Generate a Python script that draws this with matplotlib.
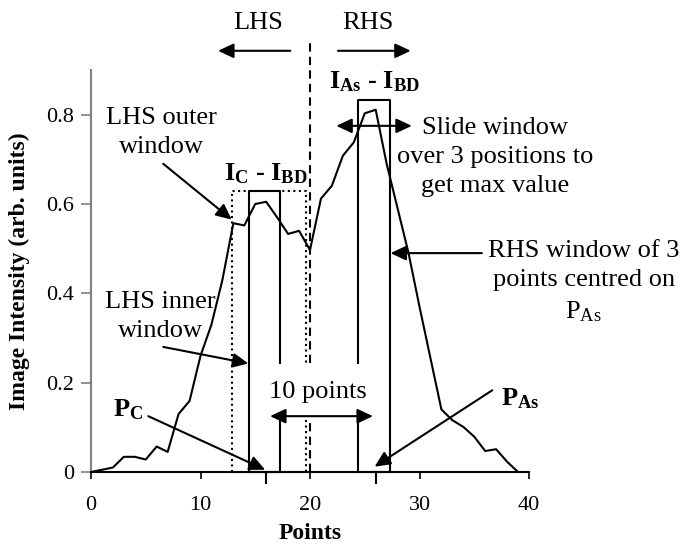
import matplotlib
matplotlib.use('Agg')
import matplotlib.pyplot as plt

# profile data
points = list(range(40))
intensity = [0.0, 0.005, 0.01, 0.034, 0.034, 0.028, 0.057, 0.045, 0.13, 0.159,
             0.26, 0.33, 0.43, 0.557, 0.552, 0.60, 0.605, 0.57, 0.533, 0.54,
             0.497, 0.612, 0.641, 0.708, 0.738, 0.803, 0.811, 0.69, 0.59, 0.49,
             0.37, 0.255, 0.14, 0.116, 0.101, 0.079, 0.047, 0.051, 0.023, 0.0]

x_ticks = [0, 10, 20, 30, 40]
y_ticks = [0, 0.2, 0.4, 0.6, 0.8]
y_tick_labels = ['0', '0.2', '0.4', '0.6', '0.8']

# window geometry
centre = 20
pc_pos, pas_pos = 16, 26
lhs_outer = (12.85, 19.6)
lhs_inner = (14.4, 17.3)
rhs_win = (24.4, 27.3)
lhs_top, rhs_top = 0.63, 0.833
gap_lo, gap_hi = 0.125, 0.244

plt.rcParams['font.family'] = ['Liberation Serif', 'DejaVu Serif']
plt.rcParams['mathtext.fontset'] = 'custom'
plt.rcParams['mathtext.rm'] = 'Liberation Serif'
plt.rcParams['mathtext.bf'] = 'Liberation Serif:bold'
plt.rcParams['mathtext.it'] = 'Liberation Serif:italic'

fig = plt.figure(figsize=(6.83, 5.55), dpi=100)
ax = fig.add_axes([91 / 683, 83 / 555, 438 / 683, 402 / 555])

ax.plot(points, intensity, color='black', lw=1.5, zorder=3)
ax.set_xlim(0, 40)
ax.set_ylim(0, 0.9)
ax.set_xticks(x_ticks)
ax.set_yticks(y_ticks)
ax.set_yticklabels(y_tick_labels)
ax.tick_params(axis='both', labelsize=16, direction='out', length=5, width=1.2)
ax.tick_params(axis='x', pad=12)
ax.tick_params(axis='y', pad=5, color='#808080', length=7)
for s in ['top', 'right']:
    ax.spines[s].set_visible(False)
ax.spines['left'].set_color('#808080')
ax.spines['left'].set_linewidth(1.5)
ax.spines['bottom'].set_linewidth(1.5)

ax.set_xlabel('Points', fontsize=17, fontweight='bold', labelpad=6)
ax.set_ylabel('Image Intensity (arb. units)', fontsize=17, fontweight='bold', labelpad=12)

lw = 1.5
# long ticks marking P_C and P_As
for p in [pc_pos, pas_pos]:
    ax.plot([p, p], [0, -0.025], color='black', lw=lw, clip_on=False)

# LHS outer window (dotted)
ax.plot([lhs_outer[0], lhs_outer[0], lhs_outer[1], lhs_outer[1]],
        [0, lhs_top, lhs_top, gap_hi], color='black', lw=lw, ls=':', clip_on=False)
ax.plot([lhs_outer[1], lhs_outer[1], lhs_outer[0]], [0.116, 0, 0],
        color='black', lw=lw, ls=':', clip_on=False)
# LHS inner window
ax.plot([lhs_inner[0], lhs_inner[0], lhs_inner[1], lhs_inner[1]],
        [0, lhs_top, lhs_top, gap_hi], color='black', lw=lw, clip_on=False)
ax.plot([lhs_inner[1], lhs_inner[1], lhs_inner[0]], [gap_lo, 0, 0],
        color='black', lw=lw, clip_on=False)
# RHS window
ax.plot([rhs_win[0], rhs_win[0], rhs_win[1], rhs_win[1], rhs_win[0]],
        [gap_hi, rhs_top, rhs_top, 0, 0], color='black', lw=lw, clip_on=False)
ax.plot([rhs_win[0], rhs_win[0]], [gap_lo, 0], color='black', lw=lw, clip_on=False)
# centre dashed line
ax.plot([centre, centre], [gap_hi, 0.97], color='black', lw=lw, dashes=(4, 2.5), clip_on=False)
ax.plot([centre, centre], [0, 0.116], color='black', lw=lw, dashes=(4, 2.5), clip_on=False)


def arrow(tail, tip, style='-|>'):
    ax.annotate('', xy=tip, xytext=tail, annotation_clip=False,
                arrowprops=dict(arrowstyle=style + ',head_length=0.47,head_width=0.22',
                                mutation_scale=20, color='black', lw=1.5,
                                shrinkA=0, shrinkB=0))


fs = 19
arrow((6.6, 0.69), (12.85, 0.565))
arrow((6.6, 0.28), (14.37, 0.243))
arrow((5.23, 0.125), (15.9, 0.005))
arrow((36.65, 0.183), (25.9, 0.012))
arrow((35.7, 0.49), (27.35, 0.49))
arrow((22.4, 0.775), (29.3, 0.775), '<|-|>')
arrow((16.35, 0.125), (25.75, 0.125), '<|-|>')
arrow((18.2, 0.943), (11.6, 0.943))
arrow((22.55, 0.943), (29.2, 0.943))

txt = dict(ha='center', va='center', fontsize=fs, linespacing=1.42)
ax.text(6.4, 0.76, 'LHS outer\nwindow', **txt)
ax.text(6.3, 0.349, 'LHS inner\nwindow', **txt)
ax.text(36.9, 0.706, 'Slide window\nover 3 positions to\nget max value', **txt)
ax.text(45.0, 0.425, 'RHS window of 3\npoints centred on\nP$_{\\mathrm{As}}$', **txt)
ax.text(20.76, 0.179, '10 points', **txt)
ax.text(15.25, 1.006, 'LHS', **txt)
ax.text(25.3, 1.006, 'RHS', **txt)
ax.text(15.95, 0.667, r'$\mathbf{I_{C}}$ - $\mathbf{I_{BD}}$', fontweight='bold', ha='center', va='center', fontsize=fs)
ax.text(25.9, 0.874, r'$\mathbf{I_{As}}$ - $\mathbf{I_{BD}}$', fontweight='bold', ha='center', va='center', fontsize=fs)
ax.text(3.4, 0.139, r'$\mathbf{P_{C}}$', ha='center', va='center', fontsize=fs)
ax.text(39.2, 0.165, r'$\mathbf{P_{As}}$', ha='center', va='center', fontsize=fs)

fig.savefig('out.png', dpi=100)
